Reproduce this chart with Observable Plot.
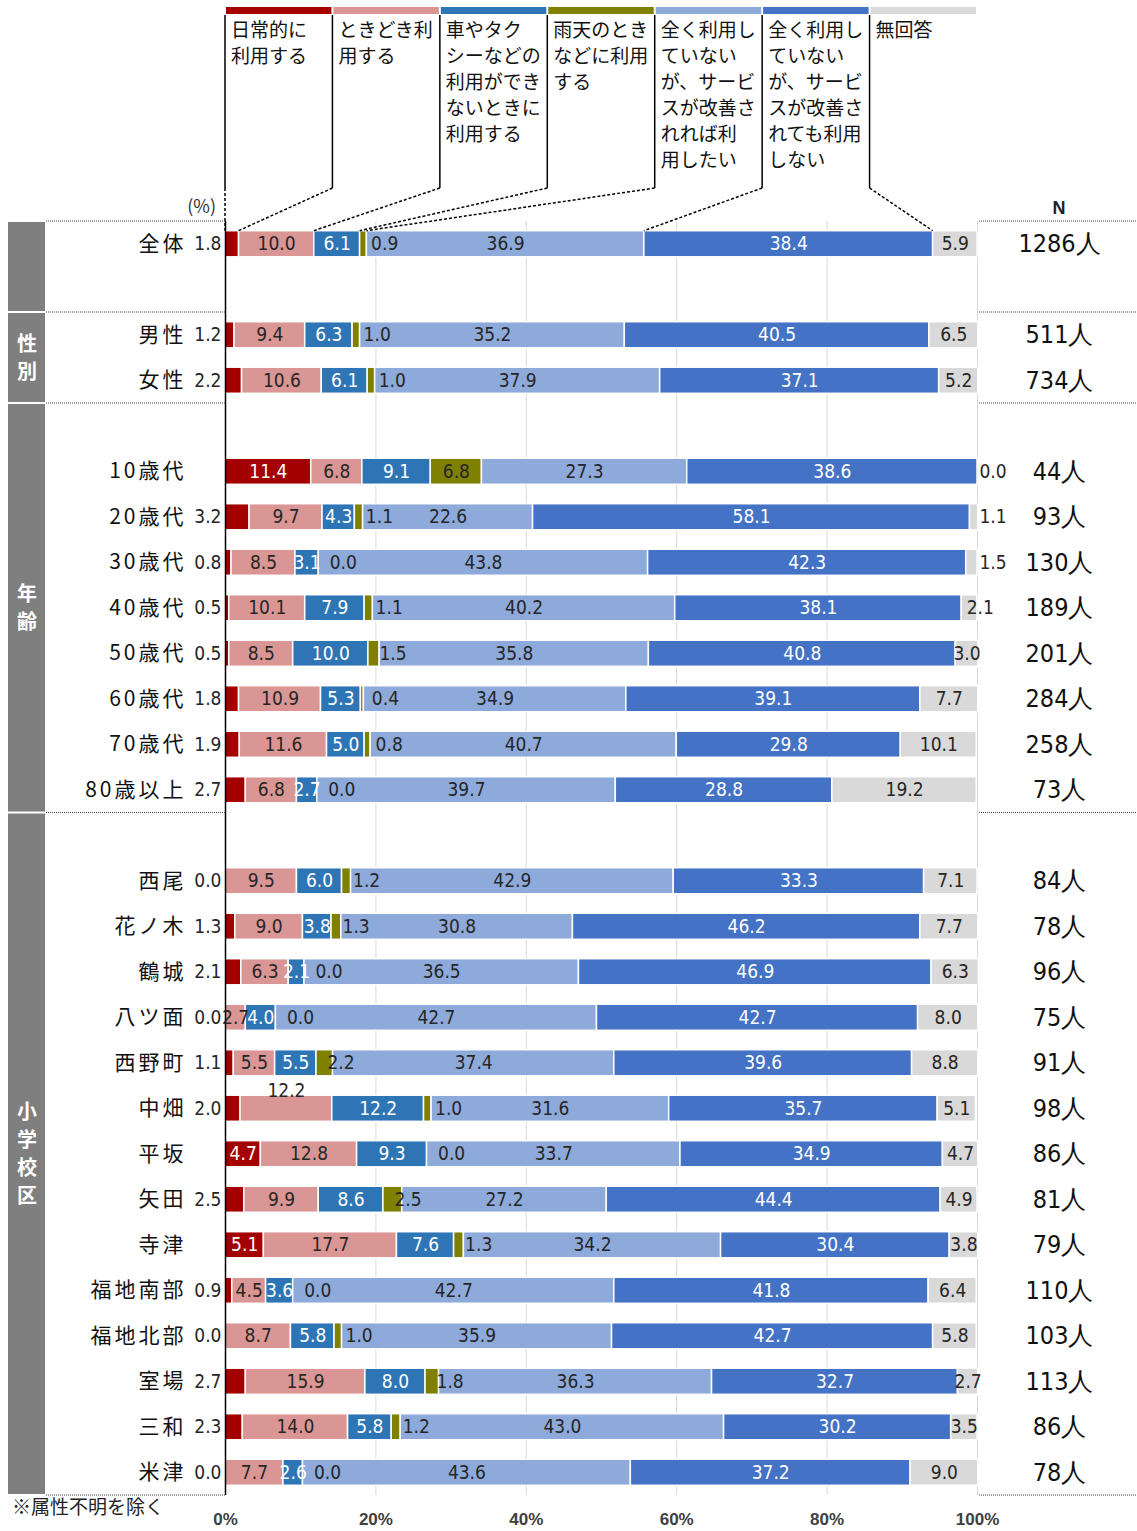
<!DOCTYPE html>
<html><head><meta charset="utf-8">
<script src="https://cdn.jsdelivr.net/npm/d3@7"></script>
<script src="https://cdn.jsdelivr.net/npm/@observablehq/plot@0.6"></script>
<style>
body{margin:0;background:#fff;}
#chart svg{display:block;}
.rowlab text{letter-spacing:3px;}
</style></head><body><div id="chart"></div>
<script>
// ---------- data ----------
const categories = [
  "日常的に利用する",
  "ときどき利用する",
  "車やタクシーなどの利用ができないときに利用する",
  "雨天のときなどに利用する",
  "全く利用していないが、サービスが改善されれば利用したい",
  "全く利用していないが、サービスが改善されても利用しない",
  "無回答"
];
const legendLines = [
  ["日常的に","利用する"],
  ["ときどき利","用する"],
  ["車やタク","シーなどの","利用ができ","ないときに","利用する"],
  ["雨天のとき","などに利用","する"],
  ["全く利用し","ていない","が、サービ","スが改善さ","れれば利","用したい"],
  ["全く利用し","ていない","が、サービ","スが改善さ","れても利用","しない"],
  ["無回答"]
];
const colors = ["#a50000","#da9694","#2e75b6","#808000","#8eaadb","#4472c4","#d9d9d9"];

const rowNames = ["全体","男性","女性","10歳代","20歳代","30歳代","40歳代","50歳代","60歳代","70歳代","80歳以上",
  "西尾","花ノ木","鶴城","八ツ面","西野町","中畑","平坂","矢田","寺津","福地南部","福地北部","室場","三和","米津"];
const nCount = [1286,511,734,44,93,130,189,201,284,258,73,84,78,96,75,91,98,86,81,79,110,103,113,86,78];

const daily     = [1.8,1.2,2.2,11.4,3.2,0.8,0.5,0.5,1.8,1.9,2.7,0.0,1.3,2.1,0.0,1.1,2.0,4.7,2.5,5.1,0.9,0.0,2.7,2.3,0.0];
const sometimes = [10.0,9.4,10.6,6.8,9.7,8.5,10.1,8.5,10.9,11.6,6.8,9.5,9.0,6.3,2.7,5.5,12.2,12.8,9.9,17.7,4.5,8.7,15.9,14.0,7.7];
const noCar     = [6.1,6.3,6.1,9.1,4.3,3.1,7.9,10.0,5.3,5.0,2.7,6.0,3.8,2.1,4.0,5.5,12.2,9.3,8.6,7.6,3.6,5.8,8.0,5.8,2.6];
const rainy     = [0.9,1.0,1.0,6.8,1.1,0.0,1.1,1.5,0.4,0.8,0.0,1.2,1.3,0.0,0.0,2.2,1.0,0.0,2.5,1.3,0.0,1.0,1.8,1.2,0.0];
const wouldUse  = [36.9,35.2,37.9,27.3,22.6,43.8,40.2,35.8,34.9,40.7,39.7,42.9,30.8,36.5,42.7,37.4,31.6,33.7,27.2,34.2,42.7,35.9,36.3,43.0,43.6];
const wouldNot  = [38.4,40.5,37.1,38.6,58.1,42.3,38.1,40.8,39.1,29.8,28.8,33.3,46.2,46.9,42.7,39.6,35.7,34.9,44.4,30.4,41.8,42.7,32.7,30.2,37.2];
const noAnswer  = [5.9,6.5,5.2,0.0,1.1,1.5,2.1,3.0,7.7,10.1,19.2,7.1,7.7,6.3,8.0,8.8,5.1,4.7,4.9,3.8,6.4,5.8,2.7,3.5,9.0];

const xTicks = [0,20,40,60,80,100];

// row slots (blank slots separate groups)
const slots = ["全体"," 1","男性","女性"," 2","10歳代","20歳代","30歳代","40歳代","50歳代","60歳代","70歳代","80歳以上"," 3",
  "西尾","花ノ木","鶴城","八ツ面","西野町","中畑","平坂","矢田","寺津","福地南部","福地北部","室場","三和","米津"];
const sections = [
  {label:"", from:"全体", to:" 1"},
  {label:"性別", from:"男性", to:"女性"},
  {label:"年齢", from:" 2", to:"80歳以上"},
  {label:"小学校区", from:" 3", to:"米津"}
];
const caption = "※属性不明を除く";

// ---------- build tables ----------
const seriesValues = [daily, sometimes, noCar, rainy, wouldUse, wouldNot, noAnswer];
const segs = [];
rowNames.forEach((row, i) => {
  let c = 0;
  seriesValues.forEach((vals, k) => {
    const v = vals[i];
    segs.push({row, k, cat: categories[k], v, x1: c, x2: c + v});
    c += v;
  });
});
const WHITE = "#ffffff", DARK = "#262626";
const labels = segs.map(d => {
  const t = d.v.toFixed(1), mid = (d.x1 + d.x2) / 2;
  const L = {row: d.row, text: t, x: mid, pos: "mid", fill: DARK};
  if (d.k === 0) {
    if (d.v < 4) { L.x = 0; L.pos = "left"; } else L.fill = WHITE;
  } else if (d.k === 1) {
    if (d.row === "中畑") L.pos = "raised";
  } else if (d.k === 2 || d.k === 5) {
    L.fill = WHITE;
  } else if (d.k === 3) {
    if (d.v < 3) { L.x = d.x1; L.pos = "after"; }
  } else if (d.k === 6) {
    if (d.v < 2) { L.x = 100; L.pos = "outside"; }
    else if (d.v < 2.5) { L.x = d.x1; L.pos = "near"; }
  }
  return L;
});
const rowTable = rowNames.map((row, i) => ({row, n: nCount[i] + "人"}));

// ---------- plot ----------
const NARROW = "'Liberation Sans Narrow','Arial Narrow','DejaVu Sans Condensed',sans-serif";
const JP = "'Noto Sans CJK JP','Noto Sans',sans-serif";
const inset = 9.7;
const labelMarks = [
  ["mid", {textAnchor: "middle"}],
  ["raised", {textAnchor: "middle", dy: -18}],
  ["left", {textAnchor: "end", dx: -4}],
  ["after", {textAnchor: "start", dx: 11}],
  ["outside", {textAnchor: "start", dx: 2}],
  ["near", {textAnchor: "start", dx: 5}]
].map(([pos, opt]) => Plot.text(labels.filter(l => l.pos === pos), {
  x: "x", y: "row", text: "text", fill: "fill", fontFamily: NARROW, fontSize: 19, ...opt
}));

const plot = Plot.plot({
  width: 1137, height: 1531,
  marginLeft: 225, marginRight: 160, marginTop: 221, marginBottom: 36,
  x: {domain: [0, 100], axis: null},
  y: {type: "band", domain: slots, padding: 0, round: false, axis: null},
  color: {type: "identity"},
  style: {background: "white", fontFamily: JP},
  marks: [
    Plot.ruleX([20, 40, 60, 80, 100], {stroke: "#d9d9d9", strokeWidth: 1}),
    Plot.barX(segs.filter(d => d.v > 0), {x1: "x1", x2: "x2", y: "row", fill: d => colors[d.k],
      stroke: "white", strokeWidth: 1.5, insetTop: inset, insetBottom: inset, title: d => d.cat + " " + d.v}),
    Plot.ruleX([0], {stroke: "#000", strokeWidth: 1.5}),
    ...labelMarks,
    Plot.text(rowTable, {y: "row", text: "row", frameAnchor: "left", textAnchor: "end", dx: -39,
      fontFamily: JP, fontSize: 21, fill: "#111", className: "rowlab"}),
    Plot.text(rowTable, {y: "row", text: "n", frameAnchor: "right", textAnchor: "middle", dx: 82,
      fontFamily: NARROW, fontSize: 25, fill: "#111"}),
    Plot.axisX({ticks: xTicks, tickFormat: d => d + "%", tickSize: 0, tickPadding: 17, label: null,
      fontSize: 17, fontWeight: "bold", fill: "#404040", fontFamily: "'Liberation Sans',Arial,sans-serif"})
  ]
});

// ---------- decorations using the plot's own scales ----------
const xs = plot.scale("x"), ys = plot.scale("y");
const X = v => xs.apply(v);
const bandTop = r => ys.apply(r);
const bw = ys.bandwidth;
const svg = d3.select(plot);
const g = svg.append("g").attr("text-anchor", "start").attr("font-family", JP);

// legend columns
const colW = 100 / 7;
const firstBarTop = bandTop("全体") + inset;
const cum = [0];
seriesValues.forEach((vals, k) => cum.push(cum[k] + vals[0]));
categories.forEach((c, k) => {
  const l = X(k * colW), r = X((k + 1) * colW);
  g.append("rect").attr("x", l + 1).attr("y", 7).attr("width", r - l - 2).attr("height", 7).attr("fill", colors[k]);
  const t = g.append("text").attr("font-size", 19).attr("fill", "#111").attr("text-anchor", "start");
  legendLines[k].forEach((line, j) => t.append("tspan").attr("x", l + 6).attr("y", 37 + j * 26).text(line));
  g.append("line").attr("x1", l).attr("x2", l).attr("y1", 15).attr("y2", 188).attr("stroke", "#000").attr("stroke-width", 1.5);
  g.append("line").attr("x1", l).attr("y1", 188).attr("x2", X(cum[k])).attr("y2", firstBarTop)
    .attr("stroke", "#000").attr("stroke-width", 1.5).attr("stroke-dasharray", "3,2");
});

// section boxes, labels and dotted separators
const sepYs = new Set();
sections.forEach(s => {
  const y0 = bandTop(s.from), y1 = bandTop(s.to) + bw;
  sepYs.add(y0); sepYs.add(y1);
  g.append("rect").attr("x", 8).attr("y", y0 + 1).attr("width", 37).attr("height", y1 - y0 - 2).attr("fill", "#7f7f7f");
  if (s.label) {
    const chars = [...s.label], lh = 28, cy = (y0 + y1) / 2;
    const t = g.append("text").attr("font-size", 20).attr("font-weight", "bold")
      .attr("fill", "#fff").attr("text-anchor", "middle");
    chars.forEach((ch, j) => t.append("tspan").attr("x", 27)
      .attr("y", cy + (j - (chars.length - 1) / 2) * lh + 7).text(ch));
  }
});
[...sepYs].forEach(y => {
  g.append("line").attr("x1", 46).attr("x2", X(0)).attr("y1", y).attr("y2", y)
    .attr("stroke", "#444").attr("stroke-dasharray", "1,1");
  g.append("line").attr("x1", X(100) + 2).attr("x2", 1137).attr("y1", y).attr("y2", y)
    .attr("stroke", "#444").attr("stroke-dasharray", "1,1");
});

// headers and caption
g.append("text").attr("x", X(0) - 9).attr("y", 213).attr("text-anchor", "end")
  .attr("font-size", 18).attr("fill", "#333").text("(%)");
g.append("text").attr("x", X(100) + 82).attr("y", 214).attr("text-anchor", "middle")
  .attr("font-family", "'Liberation Sans',Arial,sans-serif").attr("font-weight", "bold")
  .attr("font-size", 18).attr("fill", "#222").text("N");
g.append("text").attr("x", 12).attr("y", 1514).attr("text-anchor", "start").attr("font-size", 19)
  .attr("fill", "#222").text(caption);

document.getElementById("chart").append(plot);
</script></body></html>
